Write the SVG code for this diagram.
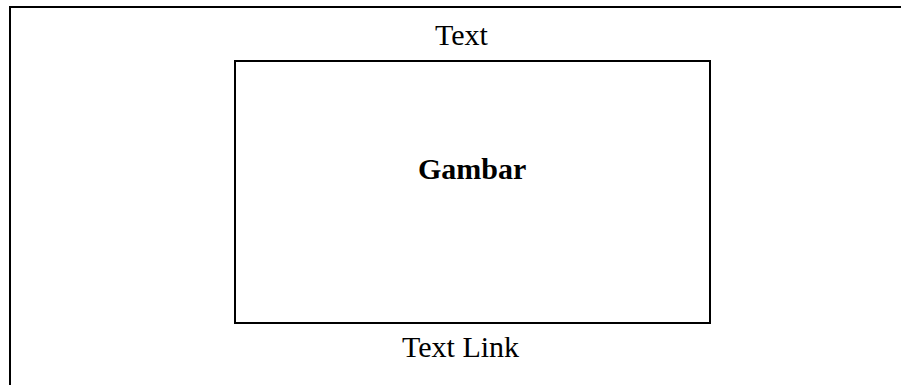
<svg xmlns="http://www.w3.org/2000/svg" width="901" height="385" viewBox="0 0 901 385">
<style>
.ln{fill:none;stroke:#000;stroke-width:2}
.t{font-family:"Liberation Serif","Times New Roman",serif;font-size:30px;fill:#000}
.b{font-weight:bold}
</style>
<rect width="901" height="385" fill="#fff"/>
<g id="frame">
<path class="ln" d="M10 385 V7 H901"/>
<text class="t" x="435" y="44.5">Text</text>
</g>
<g id="gambar">
<rect class="ln" x="235" y="61" width="475" height="262"/>
<text class="t b" x="418" y="178.5">Gambar</text>
</g>
<g id="textlink">
<text class="t" x="402" y="356.5">Text Link</text>
</g>
<g id="connectors"></g>
</svg>
